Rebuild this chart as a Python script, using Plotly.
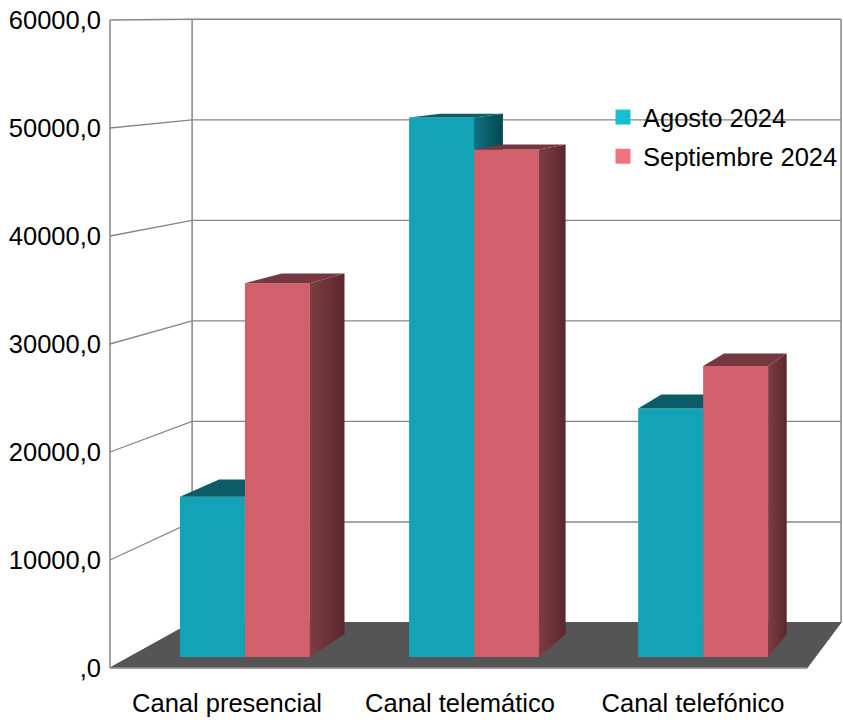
import plotly.graph_objects as go

# ---------------------------------------------------------------- data
categories = ["Canal presencial", "Canal telemático", "Canal telefónico"]
series_names = ["Agosto 2024", "Septiembre 2024"]
agosto_2024 = [15100, 50800, 23400]
septiembre_2024 = [35200, 47800, 27400]
tick_values = [0, 10000, 20000, 30000, 40000, 50000, 60000]
tick_labels = [",0", "10000,0", "20000,0", "30000,0", "40000,0", "50000,0", "60000,0"]

# ---------------------------------------------------------------- styles
W, H = 843, 720
FONT = "Liberation Sans, Arial, sans-serif"
TEXT_SIZE = 25.5
TEXT_FONT = dict(family=FONT, size=TEXT_SIZE, color="black")
GRID = "#868686"
FLOOR = "#555555"
STYLE = {
    "Agosto 2024": dict(legend="#17bfd3", front="#12a4b6", top="#0b5c67",
                        side=("#0e7380", "#064750")),
    "Septiembre 2024": dict(legend="#f2737f", front="#d2606b", top="#763840",
                            side=("#7d3d44", "#5a272c")),
}

# ---------------------------------------------------------------- box / camera
CAT_X0_PX = 227        # page x of the first category on the front plane
CAT_STEP_PX = 233      # page distance between categories on the front plane
ZERO_PX = 668          # page y of value 0 on the front plane
PX_PER_UNIT = 0.0108   # page pixels per value unit on the front plane
VP_PX = (1300, 9)      # vanishing point on the page

WALL_LEFT_PX = 110
WALL_RIGHT_PX = 807
WALL_DEPTH = 0.069     # depth of the back wall (fraction towards the vanishing point)
BAR_FRONT = 0.0167     # depth of the bars' front faces
BAR_BACK = 0.0511      # depth of the bars' back faces
BAR_WIDTH = 0.2835     # width of one bar in category units


def px_to_x(px):
    return (px - CAT_X0_PX) / CAT_STEP_PX


def py_to_v(py):
    return (ZERO_PX - py) / PX_PER_UNIT


X_RANGE = [px_to_x(0), px_to_x(W)]
Y_RANGE = [py_to_v(H), py_to_v(0)]
VP = (px_to_x(VP_PX[0]), py_to_v(VP_PX[1]))
X_LEFT = px_to_x(WALL_LEFT_PX)
X_RIGHT = px_to_x(WALL_RIGHT_PX)


def project(x, v, t):
    """Move a point of a plane towards the vanishing point by depth t."""
    return VP[0] + (x - VP[0]) * (1 - t), VP[1] + (v - VP[1]) * (1 - t)


# the bars live in the plane of their front faces
BAR_X_RANGE = [VP[0] + (r - VP[0]) / (1 - BAR_FRONT) for r in X_RANGE]
BAR_Y_RANGE = [VP[1] + (r - VP[1]) / (1 - BAR_FRONT) for r in Y_RANGE]
BAR_DEPTH = 1 - (1 - BAR_BACK) / (1 - BAR_FRONT)


def path(points):
    return "M " + " L ".join(f"{x},{y}" for x, y in points) + " Z"


fig = go.Figure()
shapes = []

# ---------------------------------------------------------------- walls & grid
for v in tick_values:
    a = project(X_LEFT, v, 0)
    b = project(X_LEFT, v, WALL_DEPTH)
    c = project(X_RIGHT, v, WALL_DEPTH)
    shapes.append(dict(type="path", path=f"M {a[0]},{a[1]} L {b[0]},{b[1]} L {c[0]},{c[1]}",
                       line=dict(color=GRID, width=1.3), layer="below"))

top = tick_values[-1]
for x, t in [(X_LEFT, 0), (X_LEFT, WALL_DEPTH), (X_RIGHT, WALL_DEPTH)]:
    a = project(x, 0, t)
    b = project(x, top, t)
    shapes.append(dict(type="line", x0=a[0], y0=a[1], x1=b[0], y1=b[1],
                       line=dict(color=GRID, width=1.5), layer="below"))

# floor
floor = [project(X_LEFT, 0, 0), project(X_RIGHT, 0, 0),
         project(X_RIGHT, 0, WALL_DEPTH), project(X_LEFT, 0, WALL_DEPTH)]
shapes.append(dict(type="path", path=path(floor), fillcolor=FLOOR,
                   line=dict(color=FLOOR, width=1), layer="below"))
shapes.append(dict(type="line", x0=X_LEFT, y0=0, x1=X_RIGHT, y1=0,
                   line=dict(color="#9a9a9a", width=1.5), layer="below"))

# ---------------------------------------------------------------- bars
series = [agosto_2024, septiembre_2024]
for i, (name, values) in enumerate(zip(series_names, series)):
    st = STYLE[name]
    xa, ya = f"x{i + 2}", f"y{i + 2}"
    offset = -BAR_WIDTH + i * BAR_WIDTH
    for c, v in enumerate(values):
        xl = c + offset
        xr = xl + BAR_WIDTH
        # right side face
        side = [(xr, 0), (xr, v), project(xr, v, BAR_DEPTH), project(xr, 0, BAR_DEPTH), (xr, 0)]
        fig.add_trace(go.Scatter(
            x=[p[0] for p in side], y=[p[1] for p in side], xaxis=xa, yaxis=ya,
            mode="lines", line=dict(width=0), fill="toself",
            fillgradient=dict(type="horizontal",
                              colorscale=[[0, st["side"][0]], [1, st["side"][1]]]),
            hoverinfo="skip", showlegend=False))
        # top face
        lid = [(xl, v), (xr, v), project(xr, v, BAR_DEPTH), project(xl, v, BAR_DEPTH), (xl, v)]
        fig.add_trace(go.Scatter(
            x=[p[0] for p in lid], y=[p[1] for p in lid], xaxis=xa, yaxis=ya,
            mode="lines", line=dict(width=0), fill="toself", fillcolor=st["top"],
            hoverinfo="skip", showlegend=False))
    # front faces
    fig.add_trace(go.Bar(
        x=list(range(len(categories))), y=values, offset=offset, width=BAR_WIDTH,
        xaxis=xa, yaxis=ya, marker=dict(color=st["front"], line=dict(width=0)),
        name=name, showlegend=False, hovertemplate="%{y}<extra>" + name + "</extra>"))

# legend entries
for name in series_names:
    fig.add_trace(go.Scatter(
        x=[None], y=[None], mode="markers", name=name, legendgroup=name,
        marker=dict(symbol="square", size=15, color=STYLE[name]["legend"])))

axis_common = dict(showgrid=False, zeroline=False, showline=False, fixedrange=True)
layout_axes = {}
for k in (2, 3):
    layout_axes[f"xaxis{k}"] = dict(range=BAR_X_RANGE, overlaying="x", anchor=f"y{k}",
                                    visible=False, **axis_common)
    layout_axes[f"yaxis{k}"] = dict(range=BAR_Y_RANGE, overlaying="y", anchor=f"x{k}",
                                    visible=False, **axis_common)

fig.update_layout(
    width=W, height=H,
    margin=dict(l=0, r=0, t=0, b=0),
    paper_bgcolor="white", plot_bgcolor="rgba(0,0,0,0)",
    font=TEXT_FONT,
    shapes=shapes,
    xaxis=dict(range=X_RANGE, domain=[0, 1], tickmode="array",
               tickvals=list(range(len(categories))), ticktext=categories,
               ticks="", ticklabelposition="inside", ticklabelstandoff=0,
               tickfont=TEXT_FONT, **axis_common),
    yaxis=dict(range=Y_RANGE, domain=[0, 1], anchor="free", position=WALL_LEFT_PX / W,
               tickmode="array", tickvals=tick_values, ticktext=tick_labels,
               ticks="", ticklabelstandoff=9, tickfont=TEXT_FONT, **axis_common),
    legend=dict(x=603 / W, y=1 - 94 / H, xanchor="left", yanchor="top",
                bgcolor="rgba(0,0,0,0)", tracegroupgap=3, font=TEXT_FONT),
    showlegend=True,
    **layout_axes,
)

fig.write_html("out.html")
